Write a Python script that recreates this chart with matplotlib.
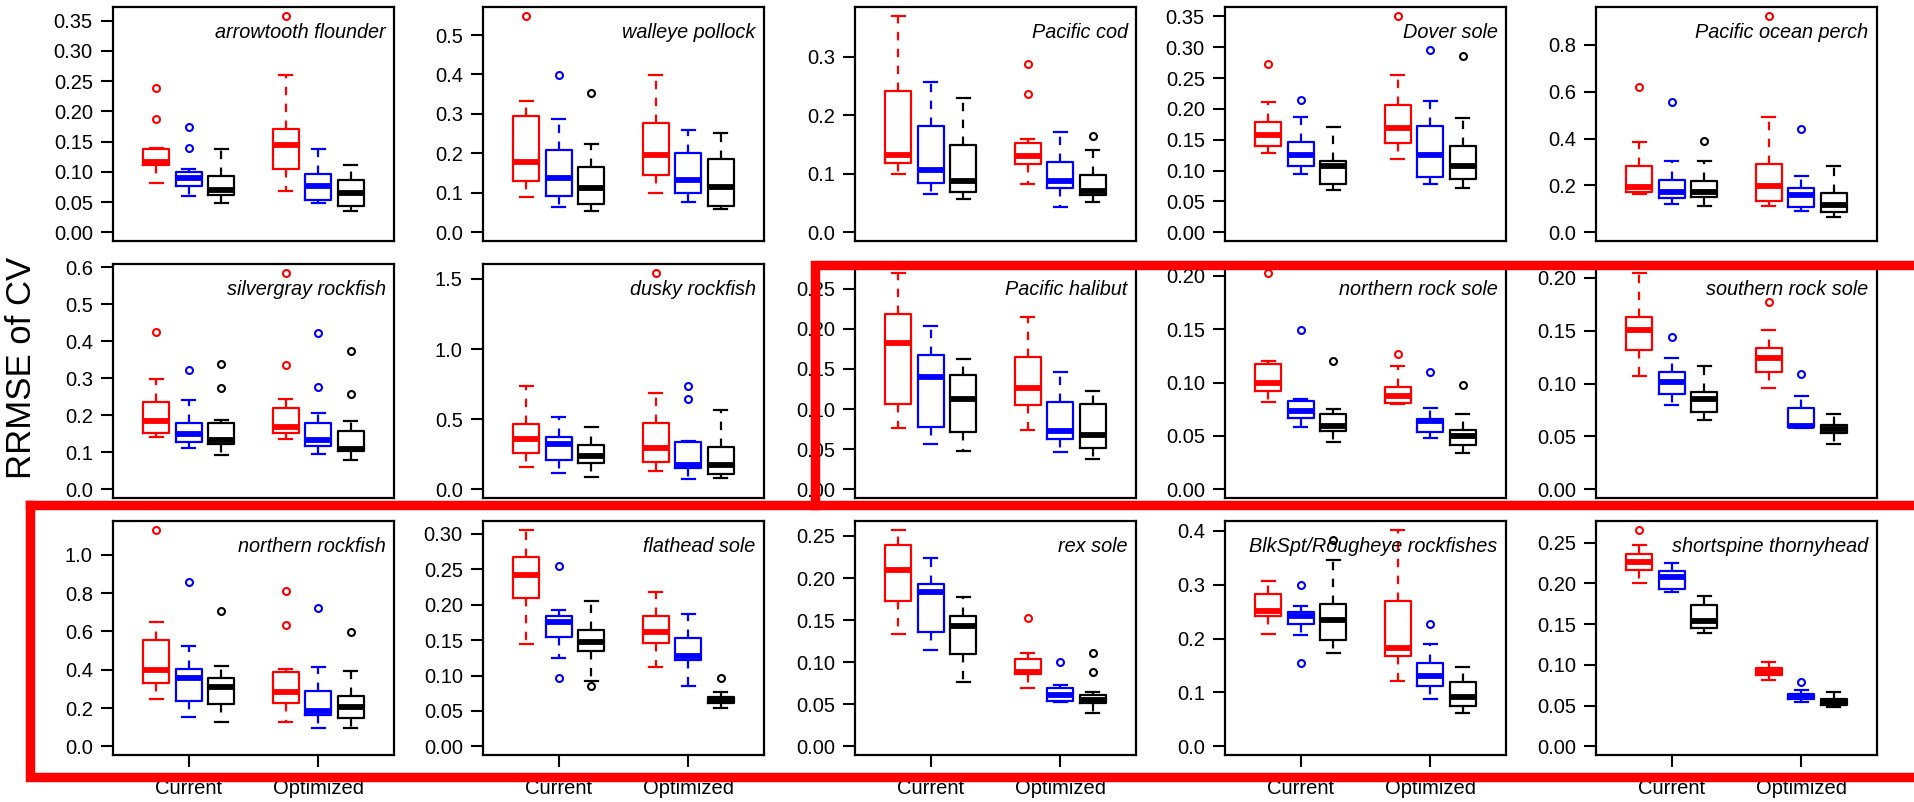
import numpy as np
import matplotlib.pyplot as plt
from matplotlib.lines import Line2D

plt.rcParams['font.family'] = ['Liberation Sans', 'DejaVu Sans']

groups = ['Current', 'Optimized']
box_colors = ['red', 'blue', 'black']

species = ['arrowtooth flounder', 'walleye pollock', 'Pacific cod', 'Dover sole', 'Pacific ocean perch',
           'silvergray rockfish', 'dusky rockfish', 'Pacific halibut', 'northern rock sole', 'southern rock sole',
           'northern rockfish', 'flathead sole', 'rex sole', 'BlkSpt/Rougheye rockfishes', 'shortspine thornyhead']

# each box: [lower whisker, Q1, median, Q3, upper whisker]
# order: Current red, blue, black, then Optimized red, blue, black
arrowtooth = [[0.082, 0.111, 0.116, 0.137, 0.140], [0.060, 0.076, 0.089, 0.100, 0.104], [0.048, 0.061, 0.070, 0.093, 0.137],
              [0.069, 0.105, 0.145, 0.170, 0.260], [0.049, 0.054, 0.076, 0.096, 0.137], [0.036, 0.044, 0.065, 0.087, 0.111]]
arrowtooth_out = [[0.239, 0.188], [0.174, 0.140], [], [0.358], [], []]

walleye = [[0.090, 0.131, 0.177, 0.295, 0.332], [0.063, 0.091, 0.137, 0.209, 0.287], [0.055, 0.072, 0.113, 0.165, 0.223],
           [0.100, 0.146, 0.195, 0.277, 0.398], [0.076, 0.099, 0.133, 0.201, 0.260], [0.058, 0.067, 0.116, 0.187, 0.251]]
walleye_out = [[0.549], [0.398], [0.353], [], [], []]

cod = [[0.100, 0.119, 0.132, 0.242, 0.370], [0.066, 0.085, 0.107, 0.182, 0.256], [0.057, 0.069, 0.088, 0.149, 0.230],
       [0.083, 0.116, 0.130, 0.153, 0.160], [0.043, 0.075, 0.088, 0.120, 0.171], [0.052, 0.063, 0.070, 0.098, 0.141]]
cod_out = [[], [], [], [0.288, 0.237], [], [0.165]]

dover = [[0.128, 0.140, 0.157, 0.179, 0.211], [0.095, 0.107, 0.126, 0.147, 0.187], [0.069, 0.079, 0.107, 0.116, 0.170],
         [0.119, 0.145, 0.169, 0.207, 0.255], [0.079, 0.090, 0.126, 0.173, 0.213], [0.072, 0.086, 0.107, 0.140, 0.185]]
dover_out = [[0.272], [0.215], [], [0.351], [0.296], [0.285]]

pop = [[0.164, 0.173, 0.193, 0.282, 0.384], [0.120, 0.147, 0.173, 0.225, 0.306], [0.112, 0.152, 0.171, 0.221, 0.306],
       [0.113, 0.132, 0.198, 0.293, 0.493], [0.089, 0.108, 0.159, 0.191, 0.239], [0.067, 0.086, 0.116, 0.167, 0.282]]
pop_out = [[0.618], [0.555], [0.391], [0.924], [0.442], []]

silvergray = [[0.142, 0.152, 0.185, 0.236, 0.299], [0.112, 0.127, 0.149, 0.179, 0.241], [0.092, 0.122, 0.134, 0.179, 0.187],
              [0.135, 0.152, 0.169, 0.220, 0.243], [0.095, 0.117, 0.134, 0.179, 0.207], [0.080, 0.104, 0.110, 0.159, 0.186]]
silvergray_out = [[0.426], [0.324], [0.338, 0.274], [0.586, 0.336], [0.423, 0.277], [0.373, 0.259]]

dusky = [[0.156, 0.262, 0.356, 0.465, 0.738], [0.113, 0.211, 0.320, 0.375, 0.513], [0.091, 0.189, 0.240, 0.316, 0.447],
         [0.131, 0.193, 0.295, 0.473, 0.684], [0.076, 0.149, 0.175, 0.338, 0.342], [0.080, 0.109, 0.171, 0.302, 0.564]]
dusky_out = [[], [], [], [1.545], [0.735, 0.647], []]

halibut = [[0.076, 0.106, 0.182, 0.219, 0.270], [0.056, 0.078, 0.140, 0.168, 0.203], [0.0475, 0.071, 0.1125, 0.143, 0.163],
           [0.074, 0.105, 0.126, 0.165, 0.215], [0.046, 0.063, 0.073, 0.109, 0.146], [0.038, 0.052, 0.068, 0.106, 0.123]]
halibut_out = [[], [], [], [], [], []]

n_rock_sole = [[0.082, 0.092, 0.100, 0.117, 0.120], [0.058, 0.067, 0.073, 0.083, 0.085], [0.044, 0.055, 0.0595, 0.071, 0.075],
               [0.080, 0.081, 0.087, 0.096, 0.116], [0.048, 0.054, 0.064, 0.066, 0.076], [0.034, 0.042, 0.050, 0.056, 0.071]]
n_rock_sole_out = [[0.203], [0.149], [0.120], [0.127], [0.110], [0.098]]

s_rock_sole = [[0.107, 0.132, 0.151, 0.163, 0.205], [0.080, 0.090, 0.102, 0.111, 0.124], [0.066, 0.073, 0.0855, 0.092, 0.117],
               [0.096, 0.111, 0.124, 0.134, 0.151], [0.058, 0.059, 0.0595, 0.077, 0.088], [0.043, 0.053, 0.057, 0.061, 0.071]]
s_rock_sole_out = [[], [0.144], [], [0.177], [0.109], []]

n_rockfish = [[0.249, 0.329, 0.398, 0.553, 0.652], [0.155, 0.237, 0.358, 0.402, 0.525], [0.129, 0.223, 0.308, 0.358, 0.419],
              [0.127, 0.228, 0.283, 0.386, 0.402], [0.094, 0.162, 0.186, 0.287, 0.414], [0.094, 0.150, 0.205, 0.261, 0.395]]
n_rockfish_out = [[1.132], [0.857], [0.708], [0.814, 0.635], [0.725], [0.598]]

flathead = [[0.144, 0.209, 0.2415, 0.268, 0.306], [0.125, 0.154, 0.176, 0.184, 0.192], [0.092, 0.1345, 0.1475, 0.164, 0.205],
            [0.112, 0.146, 0.161, 0.184, 0.218], [0.085, 0.122, 0.128, 0.153, 0.187], [0.054, 0.0615, 0.065, 0.069, 0.0765]]
flathead_out = [[], [0.2545, 0.096], [0.085], [], [], [0.096]]

rex = [[0.134, 0.173, 0.209, 0.239, 0.2575], [0.115, 0.136, 0.183, 0.193, 0.224], [0.076, 0.110, 0.143, 0.155, 0.178],
       [0.069, 0.086, 0.0885, 0.1035, 0.111], [0.0525, 0.054, 0.061, 0.069, 0.073], [0.0395, 0.0515, 0.055, 0.0605, 0.065]]
rex_out = [[], [], [], [0.153], [0.1005], [0.111, 0.088]]

blkspt = [[0.209, 0.242, 0.251, 0.282, 0.306], [0.206, 0.227, 0.242, 0.250, 0.261], [0.1725, 0.197, 0.234, 0.265, 0.346],
          [0.121, 0.167, 0.182, 0.270, 0.402], [0.088, 0.112, 0.131, 0.1555, 0.1905], [0.0625, 0.074, 0.091, 0.119, 0.148]]
blkspt_out = [[], [0.300, 0.1545], [0.382], [], [0.2265], []]

thornyhead = [[0.2005, 0.2165, 0.2265, 0.2365, 0.247], [0.189, 0.1935, 0.208, 0.215, 0.2255], [0.1395, 0.145, 0.1535, 0.1735, 0.185],
              [0.082, 0.088, 0.0915, 0.096, 0.104], [0.055, 0.0585, 0.061, 0.0645, 0.0695], [0.048, 0.051, 0.0545, 0.058, 0.067]]
thornyhead_out = [[0.266], [], [], [], [0.079], []]

panel_stats = [arrowtooth, walleye, cod, dover, pop, silvergray, dusky, halibut,
               n_rock_sole, s_rock_sole, n_rockfish, flathead, rex, blkspt, thornyhead]
panel_out = [arrowtooth_out, walleye_out, cod_out, dover_out, pop_out, silvergray_out, dusky_out, halibut_out,
             n_rock_sole_out, s_rock_sole_out, n_rockfish_out, flathead_out, rex_out, blkspt_out, thornyhead_out]

# y tick labels for each panel
ytick_top = [0.35, 0.5, 0.3, 0.35, 0.8, 0.6, 1.5, 0.25, 0.20, 0.20, 1.0, 0.30, 0.25, 0.4, 0.25]
ytick_step = [0.05, 0.1, 0.1, 0.05, 0.2, 0.1, 0.5, 0.05, 0.05, 0.05, 0.2, 0.05, 0.05, 0.1, 0.05]

# ----------- plotting ----------------
W, H = 1915, 802
fig = plt.figure(figsize=(W / 100, H / 100), dpi=100)

col_left = [113, 483, 855, 1225, 1596]
row_top = [7, 264, 521]
ax_w, ax_h = 281, 234
positions = [1, 2, 3, 5, 6, 7]
lw = 1.6

for i, name in enumerate(species):
    r, c = divmod(i, 5)
    ax = fig.add_axes([col_left[c] / W, 1 - (row_top[r] + ax_h) / H, ax_w / W, ax_h / H])
    stats = panel_stats[i]
    outs = panel_out[i]
    for k in range(6):
        col = box_colors[k % 3]
        st = dict(whislo=stats[k][0], q1=stats[k][1], med=stats[k][2], q3=stats[k][3],
                  whishi=stats[k][4], fliers=outs[k])
        ax.bxp([st], positions=[positions[k]], widths=0.8, capwidths=0.4, manage_ticks=False,
               boxprops=dict(color=col, lw=lw),
               whiskerprops=dict(color=col, lw=lw, ls=(0, (3.8, 3.8))),
               capprops=dict(color=col, lw=lw),
               medianprops=dict(color=col, lw=4.2, solid_capstyle='butt'),
               flierprops=dict(marker='o', mfc='none', mec=col, ms=5, mew=1.5, ls='none'))

    ymax = max(max(s[4] for s in stats), max([max(o) for o in outs if o] + [0]))
    ax.set_ylim(-0.04 * ymax, 1.04 * ymax)
    ax.set_xlim(-0.33, 8.33)

    step = ytick_step[i]
    ticks = np.round(np.arange(0, ytick_top[i] + step / 2, step), 3)
    dec = 2 if step < 0.1 else 1
    ax.set_yticks(ticks, [f'{t:.{dec}f}' for t in ticks])
    if r == 2:
        ax.set_xticks([2, 6], groups)
    else:
        ax.set_xticks([])

    ax.tick_params(direction='out', length=8.5, width=1.5, labelsize=14.5, pad=6)
    ax.tick_params(axis='x', pad=9)
    for sp in ax.spines.values():
        sp.set_linewidth(1.6)
    ax.text(0.97, 0.893, name, transform=ax.transAxes, ha='right', va='center',
            fontsize=14.3, style='italic')

fig.text(22 / W, 1 - 368 / H, 'RRMSE of CV', rotation=90, ha='center', va='center', fontsize=25)

# red highlight frames
def px(x, y):
    return x / W, 1 - y / H

frames = [
    [(1.01 * W, 265), (815, 265), (815, 505)],
    [(30, 505), (1.01 * W, 505)],
    [(30, 505), (30, 777), (1.01 * W, 777)],
]
for pts in frames:
    xs, ys = zip(*[px(x, y) for x, y in pts])
    fig.add_artist(Line2D(xs, ys, color='red', lw=6.8, transform=fig.transFigure,
                          zorder=10, solid_joinstyle='miter', solid_capstyle='projecting'))

fig.savefig('out.png', dpi=100)
